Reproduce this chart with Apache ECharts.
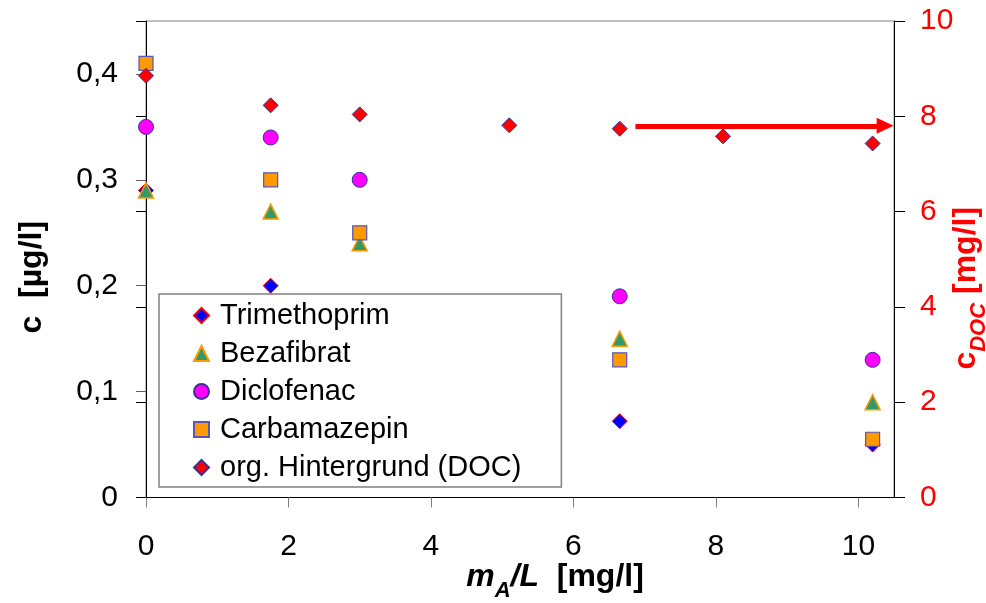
<!DOCTYPE html>
<html>
<head>
<meta charset="utf-8">
<script src="https://cdn.jsdelivr.net/npm/echarts@6/dist/echarts.min.js"></script>
<style>
  html, body { margin: 0; padding: 0; background: #fff; }
  #chart { width: 986px; height: 603px; }
</style>
</head>
<body>
<div id="chart"></div>
<script>
// Adsorbent dose m_A/L [mg/l]
const dose = [0, 1.75, 3.0, 6.65, 10.2];
const doseDOC = [0, 1.75, 3.0, 5.1, 6.65, 8.1, 10.2];

// Residual concentrations c [µg/l]
const trimethoprim = [0.29, 0.20, null, 0.072, 0.05];
const bezafibrat   = [0.29, 0.27, 0.24, 0.15, 0.09];
const diclofenac   = [0.35, 0.34, 0.30, 0.19, 0.13];
const carbamazepin = [0.41, 0.30, 0.25, 0.13, 0.055];

// Organic background c_DOC [mg/l]
const doc = [8.85, 8.23, 8.04, 7.81, 7.74, 7.58, 7.43];

// Tick values
const xTicks = [0, 2, 4, 6, 8, 10];
const yTicks = [0, 0.1, 0.2, 0.3, 0.4];
const yDocTicks = [0, 2, 4, 6, 8, 10];

// Mean DOC level marker (arrow towards right axis)
const docArrow = { from: 6.87, to: 10.375, level: 7.8 };

const names = ['Trimethoprim', 'Bezafibrat', 'Diclofenac', 'Carbamazepin', 'org. Hintergrund (DOC)'];

const FONT = '"Liberation Sans", Arial, sans-serif';

function pairs(xs, ys) {
  return xs.map((x, i) => [x, ys[i]]).filter(p => p[1] !== null);
}
function comma(v) {
  return v === 0 ? '0' : v.toFixed(1).replace('.', ',');
}

const chart = echarts.init(document.getElementById('chart'), null, { renderer: 'canvas' });

const option = {
  animation: false,
  backgroundColor: '#ffffff',
  grid: {
    left: 146, right: 92, top: 21, bottom: 105.5,
    containLabel: false,
    outerBoundsMode: 'none',
    show: true, borderColor: '#808080', borderWidth: 1, backgroundColor: 'transparent'
  },
  legend: {
    orient: 'vertical',
    left: 159, top: 294,
    padding: [7, 40, 5, 34],
    itemGap: 9,
    itemWidth: 15, itemHeight: 15,
    borderColor: '#808080', borderWidth: 1.5,
    backgroundColor: '#ffffff',
    textStyle: { fontFamily: FONT, fontSize: 29, lineHeight: 29, color: '#000', padding: [0, 0, 0, 6] },
    data: names
  },
  xAxis: {
    type: 'value', min: 0, max: 10.5, interval: 2,
    axisLine: { show: true, onZero: false, lineStyle: { color: '#000', width: 1 } },
    axisTick: { show: true, inside: false, length: 10, lineStyle: { color: '#808080' }, customValues: xTicks },
    axisLabel: { fontFamily: FONT, fontSize: 30, color: '#000', margin: 34, customValues: xTicks, formatter: v => String(v) },
    splitLine: { show: false },
    name: '{i|m}{sub|A}{i|/L}{b|  [mg/l]}',
    nameLocation: 'middle', nameGap: 62, nameMoveOverlap: false,
    nameTextStyle: {
      padding: [0, 0, 0, 70],
      rich: {
        i: { fontFamily: FONT, fontSize: 32, fontWeight: 'bold', fontStyle: 'italic', color: '#000', lineHeight: 34, verticalAlign: 'bottom' },
        sub: { fontFamily: FONT, fontSize: 22, fontWeight: 'bold', fontStyle: 'italic', color: '#000', lineHeight: 34, verticalAlign: 'bottom', padding: [0, 0, -8, 0] },
        b: { fontFamily: FONT, fontSize: 32, fontWeight: 'bold', color: '#000', lineHeight: 34, verticalAlign: 'bottom' }
      }
    }
  },
  yAxis: [
    {
      type: 'value', min: 0, max: 0.45, interval: 0.1, position: 'left',
      axisLine: { show: true, onZero: false, lineStyle: { color: '#000', width: 1 } },
      axisTick: { show: true, inside: false, length: 10, lineStyle: { color: '#606060' }, customValues: yTicks },
      axisLabel: { fontFamily: FONT, fontSize: 30, color: '#000', margin: 28, customValues: yTicks, formatter: comma },
      splitLine: { show: false },
      name: '{b|c  [µg/l]}',
      nameLocation: 'middle', nameGap: 98, nameRotate: 90, nameMoveOverlap: false,
      nameTextStyle: {
        padding: [0, 36, 0, 0],
        rich: { b: { fontFamily: FONT, fontSize: 32, fontWeight: 'bold', color: '#000' } }
      }
    },
    {
      type: 'value', min: 0, max: 10, interval: 2, position: 'right',
      axisLine: { show: true, onZero: false, lineStyle: { color: '#000', width: 1 } },
      axisTick: { show: true, inside: false, length: 11, lineStyle: { color: '#000' }, customValues: yDocTicks },
      axisLabel: { fontFamily: FONT, fontSize: 30, color: '#ff0000', margin: 26, customValues: yDocTicks, formatter: v => String(v) },
      splitLine: { show: false },
      name: '{c|c}{sub|DOC}{b| [mg/l]}',
      nameLocation: 'middle', nameGap: 54, nameRotate: 90, nameMoveOverlap: false,
      nameTextStyle: {
        padding: [0, 58, 0, 0],
        rich: {
          c: { fontFamily: FONT, fontSize: 32, fontWeight: 'bold', color: '#ff0000', lineHeight: 34, verticalAlign: 'bottom' },
          sub: { fontFamily: FONT, fontSize: 22, fontWeight: 'bold', fontStyle: 'italic', color: '#ff0000', lineHeight: 34, verticalAlign: 'bottom', padding: [0, 0, -8, 0] },
          b: { fontFamily: FONT, fontSize: 32, fontWeight: 'bold', color: '#ff0000', lineHeight: 34, verticalAlign: 'bottom' }
        }
      }
    },
    {
      // inner half of the crossing ticks on the DOC axis
      type: 'value', min: 0, max: 10, interval: 2, position: 'right',
      axisLine: { show: false },
      axisTick: { show: true, inside: true, length: 10, lineStyle: { color: '#000' }, customValues: yDocTicks },
      axisLabel: { show: false },
      splitLine: { show: false }
    }
  ],
  series: [
    {
      name: names[0], type: 'scatter', yAxisIndex: 0, symbol: 'diamond', symbolSize: 15,
      itemStyle: { color: '#0000ff', borderColor: '#ff0000', borderWidth: 1, opacity: 1 },
      data: pairs(dose, trimethoprim)
    },
    {
      name: names[1], type: 'scatter', yAxisIndex: 0, symbol: 'triangle', symbolSize: 15,
      itemStyle: { color: '#339966', borderColor: '#ff9900', borderWidth: 1.5, opacity: 1 },
      data: pairs(dose, bezafibrat)
    },
    {
      name: names[2], type: 'scatter', yAxisIndex: 0, symbol: 'circle', symbolSize: 15,
      itemStyle: { color: '#ff00ff', borderColor: '#333399', borderWidth: 1, opacity: 1 },
      data: pairs(dose, diclofenac)
    },
    {
      name: names[3], type: 'scatter', yAxisIndex: 0, symbol: 'rect', symbolSize: 14,
      itemStyle: { color: '#ff9900', borderColor: '#5555bb', borderWidth: 1.2, opacity: 1 },
      data: pairs(dose, carbamazepin)
    },
    {
      name: names[4], type: 'scatter', yAxisIndex: 1, symbol: 'diamond', symbolSize: 15,
      itemStyle: { color: '#ff0000', borderColor: '#333399', borderWidth: 1, opacity: 1 },
      data: pairs(doseDOC, doc),
      markLine: {
        silent: true,
        symbol: ['none', 'triangle'],
        symbolSize: [16, 17],
        label: { show: false },
        lineStyle: { color: '#ff0000', width: 5, type: 'solid', opacity: 1 },
        data: [[
          { coord: [docArrow.from, docArrow.level] },
          { coord: [docArrow.to, docArrow.level] }
        ]]
      }
    }
  ]
};

chart.setOption(option);
</script>
</body>
</html>
